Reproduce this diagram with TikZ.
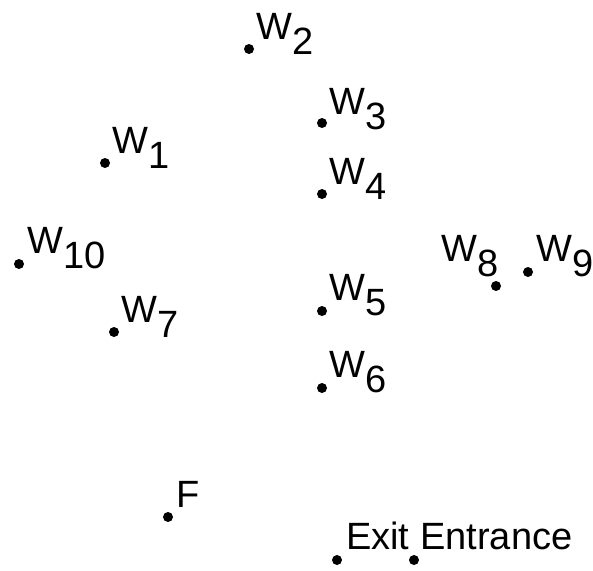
\documentclass[tikz,border=0pt]{standalone}
\usepackage{fontspec}
\setmainfont{Liberation Sans}
\newcommand{\Wsub}[1]{W\raisebox{-15pt}{#1}}
\begin{document}
\begin{tikzpicture}[x=1pt,y=-1pt,
  spot/.style={circle,fill=black,inner sep=0pt,minimum size=10pt},
  lab/.style={anchor=base west,inner sep=0pt,font=\fontsize{38}{42}\selectfont}]
\useasboundingbox (0,0) rectangle (593,570);
% dots
\node[spot] (w1)  at (105,163) {};
\node[spot] (w2)  at (249,49)  {};
\node[spot] (w3)  at (322,123) {};
\node[spot] (w4)  at (322,194) {};
\node[spot] (w5)  at (322,311) {};
\node[spot] (w6)  at (322,388) {};
\node[spot] (w7)  at (114,332) {};
\node[spot] (w8)  at (496,286) {};
\node[spot] (w9)  at (528,272) {};
\node[spot] (w10) at (19,264)  {};
\node[spot] (f)   at (168,517) {};
\node[spot] (exit) at (337,560) {};
\node[spot] (entr) at (414,560) {};
% labels
\node[lab] (lw1)  at (112,153) {\Wsub{1}};
\node[lab] (lw2)  at (256,39)  {\Wsub{2}};
\node[lab] (lw3)  at (329,114) {\Wsub{3}};
\node[lab] (lw4)  at (329,184) {\Wsub{4}};
\node[lab] (lw5)  at (329,300) {\Wsub{5}};
\node[lab] (lw6)  at (329,377) {\Wsub{6}};
\node[lab] (lw7)  at (121,322) {\Wsub{7}};
\node[lab] (lw8)  at (441,261) {\Wsub{8}};
\node[lab] (lw9)  at (536,261) {\Wsub{9}};
\node[lab] (lw10) at (27,253)  {\Wsub{10}};
\node[lab] (lf)   at (176,507) {F};
\node[lab] (lexit) at (346,549) {Exit};
\node[lab] (lentr) at (420,549) {Entrance};
\end{tikzpicture}
\end{document}
